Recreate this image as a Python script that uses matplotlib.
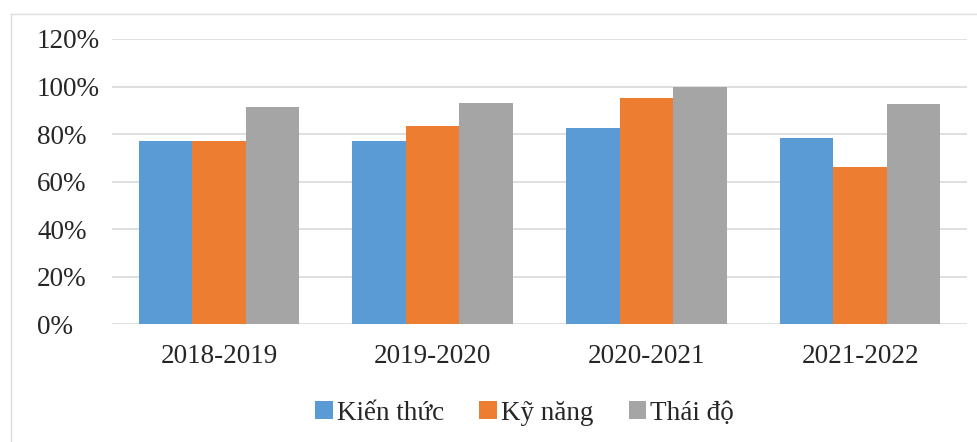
import matplotlib.pyplot as plt
import numpy as np
from matplotlib.lines import Line2D
from matplotlib.ticker import PercentFormatter

years = ['2018-2019', '2019-2020', '2020-2021', '2021-2022']
kien_thuc = [77, 77, 82.5, 78.3]
ky_nang = [77, 83.4, 95.3, 66.3]
thai_do = [91.2, 93.2, 100, 92.5]
series_names = ['Kiến thức', 'Kỹ năng', 'Thái độ']
colors = ['#5b9bd5', '#ed7d31', '#a5a5a5']

plt.rcParams['font.family'] = ['Liberation Serif', 'DejaVu Serif']

fig = plt.figure(figsize=(9.77, 4.42), dpi=100)
ax = fig.add_axes([112 / 977, 1 - 324.3 / 442, 855 / 977, (324.3 - 39) / 442])

x = np.arange(len(years))
w = 0.25
for i, (vals, name, c) in enumerate(zip([kien_thuc, ky_nang, thai_do], series_names, colors)):
    ax.bar(x + (i - 1) * w, vals, width=w, color=c, label=name, zorder=2)

ax.set_xlim(-0.5, len(years) - 0.5)
ax.set_ylim(0, 120)
ax.set_yticks(range(0, 121, 20))
ax.yaxis.set_major_formatter(PercentFormatter(decimals=0))
ax.grid(axis='y', color='#d9d9d9', linewidth=1.2, zorder=0)
for s in ax.spines.values():
    s.set_visible(False)
ax.tick_params(length=0, labelsize=19.5, colors='#262626')
ax.tick_params(axis='y', pad=54)
ax.tick_params(axis='x', pad=14)
for lbl in ax.get_yticklabels():
    lbl.set_horizontalalignment('left')
ax.set_xticks(x)
ax.set_xticklabels(years)

fig.legend(loc='center', bbox_to_anchor=(0.537, 1 - 413 / 442), ncol=3, frameon=False,
           fontsize=19.5, handlelength=0.65, handleheight=0.65, handletextpad=0.15,
           columnspacing=1.3, labelcolor='#262626')

# light chart-area border (top and left only visible)
fig.add_artist(Line2D([11 / 977, 1], [1 - 14 / 442, 1 - 14 / 442], color='#dcdcdc', lw=1))
fig.add_artist(Line2D([11 / 977, 11 / 977], [0, 1 - 14 / 442], color='#dcdcdc', lw=1))

fig.savefig('out.png', dpi=100)
